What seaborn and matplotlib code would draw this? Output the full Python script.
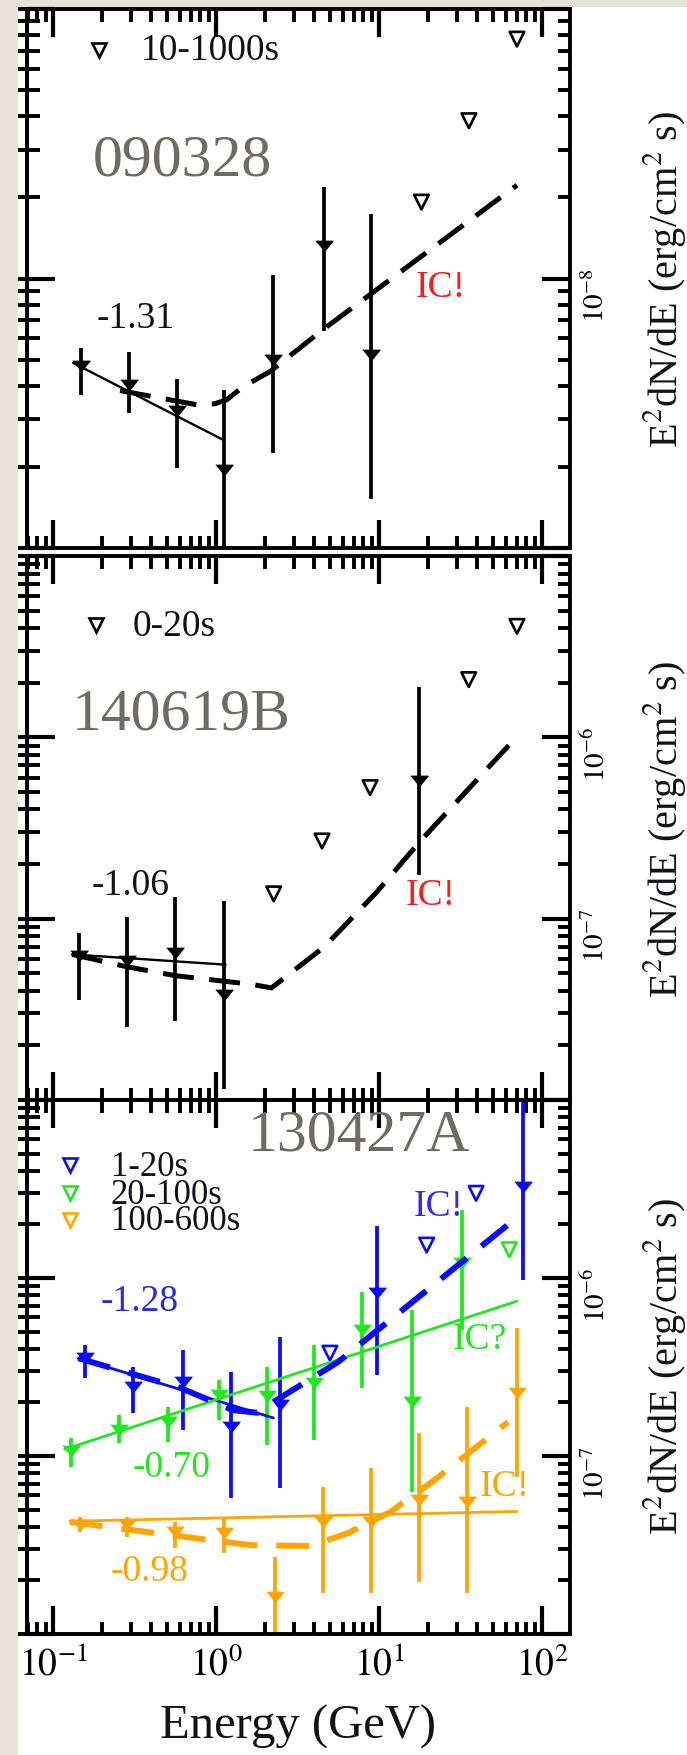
import matplotlib
matplotlib.use("Agg")
import matplotlib.pyplot as plt
from matplotlib.patches import Rectangle
from matplotlib.ticker import FixedLocator, FixedFormatter, LogLocator, NullFormatter
import numpy as np
import seaborn as sns

# ---------------------------------------------------------------- data
# GRB 090328, 10-1000 s
e_090328 = [0.148, 0.294, 0.574, 1.12, 2.25, 4.60, 8.96]
f_090328 = [4.72e-9, 4.03e-9, 3.21e-9, 1.95e-9, 5.0e-9, 1.32e-8, 5.18e-9]
lo_090328 = [3.71e-9, 3.17e-9, 1.98e-9, 1e-12, 2.25e-9, 6.41e-9, 1.52e-9]
hi_090328 = [5.54e-9, 5.32e-9, 4.22e-9, 3.86e-9, 1.03e-8, 2.19e-8, 1.74e-8]
ul_e_090328 = [18.2, 35.6, 70.2]
ul_f_090328 = [1.92e-8, 3.85e-8, 7.73e-8]
index_090328 = -1.31
fit_range_090328 = [0.133, 1.10]
fit_norm_090328 = 4.86e-9
model_e_090328 = [0.258, 0.394, 0.764, 0.986, 1.164, 1.47, 2.14, 4.53, 70.2]
model_f_090328 = [3.84e-9, 3.66e-9, 3.40e-9, 3.43e-9, 3.55e-9, 3.97e-9, 4.51e-9, 6.46e-9, 2.22e-8]

# GRB 140619B, 0-20 s
e_140619B = [0.144, 0.284, 0.562, 1.125, 17.7]
f_140619B = [6.22e-8, 5.82e-8, 6.5e-8, 3.79e-8, 5.77e-7]
lo_140619B = [3.55e-8, 2.53e-8, 2.71e-8, 1.15e-8, 1.75e-7]
hi_140619B = [8.34e-8, 1.02e-7, 1.31e-7, 1.25e-7, 1.9e-6]
ul_e_140619B = [2.26, 4.47, 8.81, 35.5, 70.2]
ul_f_140619B = [1.37e-7, 2.68e-7, 5.28e-7, 2.08e-6, 4.09e-6]
index_140619B = -1.06
fit_range_140619B = [0.131, 1.146]
fit_norm_140619B = 6.35e-8
model_e_140619B = [0.131, 0.284, 0.562, 1.66, 2.19, 4.6, 9.68, 18.0, 70.2]
model_f_140619B = [6.35e-8, 5.43e-8, 4.85e-8, 4.34e-8, 4.15e-8, 6.97e-8, 1.40e-7, 2.69e-7, 1.01e-6]

# GRB 130427A, 1-20 s
e_a = [0.157, 0.311, 0.631, 1.23, 2.47, 9.68, 76.7]
f_a = [3.54e-7, 2.45e-7, 2.61e-7, 1.46e-7, 1.94e-7, 8.2e-7, 3.26e-6]
lo_a = [2.74e-7, 1.74e-7, 1.40e-7, 5.78e-8, 6.59e-8, 2.85e-7, 9.75e-7]
hi_a = [4.21e-7, 3.18e-7, 3.94e-7, 2.98e-7, 4.67e-7, 1.96e-6, 1e-4]
ul_e_a = [5.0, 19.6, 39.4]
ul_f_a = [3.78e-7, 1.53e-6, 2.99e-6]
index_a = -1.28
fit_range_a = [0.143, 2.25]
fit_norm_a = 3.54e-7
model_e_a = [0.143, 0.6, 1.27, 1.79, 2.47, 5.6, 16.6, 73.3]
model_f_a = [3.54e-7, 2.42e-7, 1.81e-7, 1.75e-7, 2.12e-7, 3.37e-7, 7.52e-7, 2.26e-6]

# GRB 130427A, 20-100 s
e_b = [0.129, 0.255, 0.509, 1.047, 2.05, 4.01, 7.84, 15.9, 32.1]
f_b = [1.06e-7, 1.40e-7, 1.56e-7, 2.20e-7, 2.16e-7, 2.56e-7, 5.1e-7, 2.02e-7, 1.21e-6]
lo_b = [8.69e-8, 1.18e-7, 1.20e-7, 1.59e-7, 1.15e-7, 1.23e-7, 2.4e-7, 6.3e-8, 5.1e-7]
hi_b = [1.26e-7, 1.70e-7, 1.89e-7, 2.67e-7, 3.18e-7, 4.21e-7, 8.37e-7, 6.6e-7, 2.41e-6]
ul_e_b = [63.0]
ul_f_b = [1.44e-6]
index_b = -0.70
fit_range_b = [0.118, 70.0]
fit_norm_b = 1.09e-7

# GRB 130427A, 100-600 s
e_c = [0.146, 0.286, 0.56, 1.12, 2.30, 4.52, 8.9, 17.7, 34.8, 70.6]
f_c = [4.09e-8, 4.09e-8, 3.76e-8, 3.68e-8, 1.61e-8, 4.28e-8, 4.28e-8, 5.66e-8, 5.53e-8, 2.25e-7]
lo_c = [3.76e-8, 3.52e-8, 3.03e-8, 2.84e-8, 1e-12, 1.69e-8, 1.69e-8, 1.97e-8, 1.69e-8, 7.66e-8]
hi_c = [4.56e-8, 4.56e-8, 4.28e-8, 4.47e-8, 2.72e-8, 6.73e-8, 8.53e-8, 1.34e-7, 1.89e-7, 5.21e-7]
index_c = -0.98
fit_range_c = [0.127, 70.2]
fit_norm_c = 4.3e-8
model_e_c = [0.127, 0.522, 1.62, 3.78, 6.46, 11.7, 21.1, 61.8]
model_f_c = [4.26e-8, 3.6e-8, 3.16e-8, 3.12e-8, 3.69e-8, 4.84e-8, 7.14e-8, 1.55e-7]

x_ticks = [0.1, 1, 10, 100]
x_tick_labels = [r"$10^{-1}$", r"$10^{0}$", r"$10^{1}$", r"$10^{2}$"]

# ---------------------------------------------------------------- style
W, H, DPI = 687, 1756, 100
BEIGE = "#e8e3d8"
BLUE, GREEN, ORANGE, RED = "#0a0aff", "#1fe81f", "#ffa500", "#ff1a1a"
GRAY = "#6f6b64"
INK = "#111118"
SERIF = ["Liberation Serif", "DejaVu Serif"]

sns.set_theme(style="ticks")
plt.rcParams.update({
    "font.family": SERIF,
    "mathtext.fontset": "stix",
    "axes.linewidth": 2.8,
    "axes.edgecolor": "black",
    "axes.facecolor": "white",
    "xtick.color": "black",
    "ytick.color": "black",
    "xtick.direction": "in",
    "ytick.direction": "in",
    "xtick.top": True,
    "ytick.right": True,
    "xtick.major.size": 20,
    "ytick.major.size": 20,
    "xtick.minor.size": 9,
    "ytick.minor.size": 9,
    "xtick.major.width": 3.0,
    "ytick.major.width": 3.0,
    "xtick.minor.width": 2.8,
    "ytick.minor.width": 2.8,
})

fig = plt.figure(figsize=(W / DPI, H / DPI), dpi=DPI, facecolor=BEIGE)
fig.patches.append(Rectangle((18 / W, 0), 1 - 18 / W, 1 - 8 / H,
                             transform=fig.transFigure, facecolor="white",
                             edgecolor="none", zorder=-10))


def box(top, bottom, left=27, right=570):
    return [left / W, 1 - bottom / H, (right - left) / W, (bottom - top) / H]


ax1 = fig.add_axes(box(10, 549))
ax2 = fig.add_axes(box(557, 1101), sharex=ax1)
ax3 = fig.add_axes(box(1101, 1635), sharex=ax1)

minor_subs = np.arange(2, 10) * 1.0
y_setup = [
    (ax1, (1e-9, 1e-7), [1e-9, 1e-8, 1e-7], ["", r"$10^{-8}$", ""]),
    (ax2, (1e-8, 1e-5), [1e-8, 1e-7, 1e-6, 1e-5], ["", r"$10^{-7}$", r"$10^{-6}$", ""]),
    (ax3, (1e-8, 1e-5), [1e-8, 1e-7, 1e-6, 1e-5], ["", r"$10^{-7}$", r"$10^{-6}$", ""]),
]
for ax, lim, ticks, labels in y_setup:
    ax.set_xscale("log")
    ax.set_yscale("log")
    ax.set_ylim(*lim)
    ax.yaxis.set_major_locator(FixedLocator(ticks))
    ax.yaxis.set_major_formatter(FixedFormatter(labels))
    ax.yaxis.set_minor_locator(LogLocator(base=10, subs=minor_subs, numticks=50))
    ax.yaxis.set_minor_formatter(NullFormatter())
    ax.tick_params(axis="y", which="both", left=True, right=True,
                   labelleft=False, labelright=True)
    ax.tick_params(axis="y", which="major", labelrotation=90, labelsize=21, pad=9)
    ax.tick_params(axis="x", which="both", top=True, bottom=True, labeltop=False)
    for sp in ax.spines.values():
        sp.set_linewidth(2.8)
        sp.set_zorder(6)
    # short outward stubs on the left edge, continuing the inner ticks
    stub = ax.secondary_yaxis("left")
    stub.yaxis.set_major_locator(FixedLocator(ticks))
    stub.yaxis.set_minor_locator(LogLocator(base=10, subs=minor_subs, numticks=50))
    stub.yaxis.set_major_formatter(NullFormatter())
    stub.yaxis.set_minor_formatter(NullFormatter())
    stub.tick_params(axis="y", which="both", direction="out", length=6.5,
                     width=2.8, labelleft=False)
    stub.spines["left"].set_linewidth(2.8)

ax1.set_xlim(0.0693, 148.5)
ax1.xaxis.set_major_locator(FixedLocator(x_ticks))
ax1.xaxis.set_major_formatter(FixedFormatter(x_tick_labels))
ax1.xaxis.set_minor_locator(LogLocator(base=10, subs=minor_subs, numticks=50))
ax1.xaxis.set_minor_formatter(NullFormatter())
ax1.tick_params(axis="x", labelbottom=False)
ax2.tick_params(axis="x", labelbottom=False)
ax3.tick_params(axis="x", which="major", labelbottom=True, labelsize=27, pad=9)

ARROW = [(-1.0, 0.62), (1.0, 0.62), (0.0, -0.62)]


def points(ax, e, f, lo, hi, color):
    ax.vlines(e, lo, hi, colors=color, lw=2.7, zorder=3)
    sns.scatterplot(x=e, y=f, ax=ax, marker=ARROW, s=160, color=color,
                    edgecolor=color, linewidth=0.6, zorder=4, legend=False)


def upper_limits(ax, e, f, color):
    sns.scatterplot(x=e, y=f, ax=ax, marker="v", s=110, color=color,
                    facecolor="none", edgecolor=color, linewidth=1.9,
                    zorder=4, legend=False)


def power_law(ax, index, e_range, norm, color, lw):
    e = list(e_range)
    f = [norm, norm * (e_range[1] / e_range[0]) ** (index + 1)]
    sns.lineplot(x=e, y=f, ax=ax, color=color, lw=lw, sort=False,
                 estimator=None, zorder=5)


def model(ax, e, f, color, lw, dash):
    sns.lineplot(x=e, y=f, ax=ax, color=color, lw=lw, sort=False,
                 estimator=None, linestyle=(0, dash), zorder=5)


# panel 1: 090328
points(ax1, e_090328, f_090328, lo_090328, hi_090328, "black")
upper_limits(ax1, ul_e_090328, ul_f_090328, "black")
power_law(ax1, index_090328, fit_range_090328, fit_norm_090328, "black", 1.7)
model(ax1, model_e_090328, model_f_090328, "black", 3.6, (6.2, 3.1))

# panel 2: 140619B
points(ax2, e_140619B, f_140619B, lo_140619B, hi_140619B, "black")
upper_limits(ax2, ul_e_140619B, ul_f_140619B, "black")
power_law(ax2, index_140619B, fit_range_140619B, fit_norm_140619B, "black", 1.7)
model(ax2, model_e_140619B, model_f_140619B, "black", 3.6, (6.2, 3.1))

# panel 3: 130427A
points(ax3, e_a, f_a, lo_a, hi_a, BLUE)
upper_limits(ax3, ul_e_a, ul_f_a, BLUE)
points(ax3, e_b, f_b, lo_b, hi_b, GREEN)
upper_limits(ax3, ul_e_b, ul_f_b, GREEN)
points(ax3, e_c, f_c, lo_c, hi_c, ORANGE)
power_law(ax3, index_a, fit_range_a, fit_norm_a, BLUE, 2.0)
power_law(ax3, index_b, fit_range_b, fit_norm_b, GREEN, 2.0)
power_law(ax3, index_c, fit_range_c, fit_norm_c, ORANGE, 2.0)
model(ax3, model_e_a, model_f_a, BLUE, 4.3, (5.5, 3.2))
model(ax3, model_e_c, model_f_c, ORANGE, 4.3, (5.5, 3.2))

for ax in (ax1, ax2, ax3):
    ax.set_xlabel("")
    ax.set_ylabel("")


# ---------------------------------------------------------------- text
def frac(ax, x, y):
    p = ax.get_position()
    return ((x / W - p.x0) / p.width, (1 - y / H - p.y0) / p.height)


def label(ax, x, y, s, color=INK, size=27, ha="left", family=SERIF, **kw):
    fx, fy = frac(ax, x, y)
    ax.text(fx, fy, s, transform=ax.transAxes, color=color, fontsize=size,
            ha=ha, va="center", family=family, zorder=7, **kw)


def key(ax, x, y, color):
    fx, fy = frac(ax, x, y)
    ax.plot([fx], [fy], transform=ax.transAxes, marker="v", ms=10.5,
            mfc="none", mec=color, mew=1.9, ls="none", zorder=7)


# panel 1
key(ax1, 99, 51, "black")
label(ax1, 141, 51, "10-1000s")
label(ax1, 182, 162, "090328", color=GRAY, size=43, ha="center")
label(ax1, 97, 319, "-1.31")
label(ax1, 441, 288, "IC!", color=RED, ha="center")

# panel 2
key(ax2, 96, 626, "black")
label(ax2, 133, 627, "0-20s")
label(ax2, 181, 716, "140619B", color=GRAY, size=43, ha="center")
label(ax2, 92, 886, "-1.06")
label(ax2, 431, 896, "IC!", color=RED, ha="center")

# panel 3
label(ax3, 359, 1137, "130427A", color=GRAY, size=43, ha="center")
key(ax3, 70, 1166, BLUE)
key(ax3, 70, 1194, GREEN)
key(ax3, 70, 1221, ORANGE)
label(ax3, 111, 1167, "1-20s", size=25)
label(ax3, 111, 1195, "20-100s", size=25)
label(ax3, 111, 1222, "100-600s", size=25)
label(ax3, 101, 1302, "-1.28", color="#2a2ae6")
label(ax3, 133, 1468, "-0.70", color=GREEN)
label(ax3, 111, 1572, "-0.98", color=ORANGE)
label(ax3, 439, 1207, "IC!", color="#3a2ae0", ha="center")
label(ax3, 480, 1340, "IC?", color=GREEN, ha="center")
label(ax3, 505, 1487, "IC!", color=ORANGE, ha="center")

# axis titles
fig.text(298 / W, 1 - 1739 / H, "Energy (GeV)", ha="center", va="baseline",
         fontsize=35, family=SERIF, color=INK)
for yc in (279, 829, 1366):
    fig.text(664 / W, 1 - yc / H, r"E$^2$dN/dE (erg/cm$^2$ s)", rotation=90,
             ha="center", va="center", fontsize=29, family=SERIF, color=INK)

fig.savefig("out.png", dpi=DPI, facecolor=fig.get_facecolor())
